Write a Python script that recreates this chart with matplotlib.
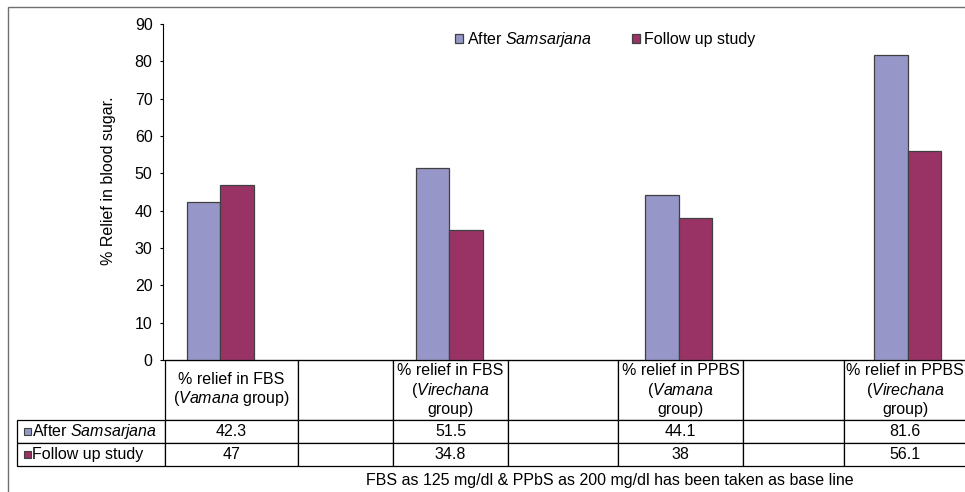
import numpy as np
import matplotlib
matplotlib.use("Agg")
import matplotlib.pyplot as plt
from matplotlib.patches import Rectangle
from matplotlib.table import Table

plt.rcParams['font.family'] = ['Liberation Sans', 'DejaVu Sans']
plt.rcParams['mathtext.fontset'] = 'custom'
plt.rcParams['mathtext.rm'] = 'Liberation Sans'
plt.rcParams['mathtext.it'] = 'Liberation Sans:italic'
fs = 11.5
plt.rcParams['font.size'] = fs

# data: 7 category slots, empty ones in between (as in the original sheet)
categories = ["% relief in FBS\n($\\it{Vamana}$ group)", "",
              "% relief in FBS\n($\\it{Virechana}$\ngroup)", "",
              "% relief in PPBS\n($\\it{Vamana}$\ngroup)", "",
              "% relief in PPBS\n($\\it{Virechana}$\ngroup)"]
after_samsarjana = [42.3, np.nan, 51.5, np.nan, 44.1, np.nan, 81.6]
follow_up = [47, np.nan, 34.8, np.nan, 38, np.nan, 56.1]
after_labels = ["42.3", "", "51.5", "", "44.1", "", "81.6"]
follow_labels = ["47", "", "34.8", "", "38", "", "56.1"]
series_names = ["After $\\it{Samsarjana}$", "Follow up study"]
yticks = [0, 10, 20, 30, 40, 50, 60, 70, 80, 90]
note = "FBS as 125 mg/dl & PPbS as 200 mg/dl has been taken as base line"

c_after = '#9696c8'
c_follow = '#993366'
edge = '#404040'

W, H = 965, 492
fig = plt.figure(figsize=(W / 100, H / 100), dpi=100)

# axes in pixel terms: x 163..965, y 24..360
ax_l, ax_r, ax_t, ax_b = 163, 965, 24, 360
ax = fig.add_axes([ax_l / W, 1 - ax_b / H, (ax_r - ax_l) / W, (ax_b - ax_t) / H])

x = np.arange(len(categories))
bw = 0.29
ax.bar(x - bw / 2, after_samsarjana, bw, color=c_after, edgecolor=edge,
       linewidth=0.9, label=series_names[0])
ax.bar(x + bw / 2, follow_up, bw, color=c_follow, edgecolor=edge,
       linewidth=0.9, label=series_names[1])

ax.set_xlim(-0.5, len(categories) - 0.5)
ax.set_ylim(0, 90)
ax.set_yticks(yticks)
ax.set_xticks([])
ax.tick_params(axis='y', direction='out', length=2.5, width=0.8, pad=5, labelsize=fs)
for s in ['top', 'right']:
    ax.spines[s].set_visible(False)
ax.spines['left'].set_linewidth(0.8)
ax.spines['bottom'].set_linewidth(0.8)

ax.set_ylabel("% Relief in blood sugar.", fontsize=fs)
ax.yaxis.set_label_coords((116 - ax_l) / (ax_r - ax_l), (ax_b - 181) / (ax_b - ax_t))

ax.legend(loc='center', bbox_to_anchor=((605 - ax_l) / (ax_r - ax_l), (ax_b - 40) / (ax_b - ax_t)),
          ncol=2, frameon=False, handlelength=0.5, handleheight=0.5,
          handletextpad=0.25, columnspacing=2.5, fontsize=fs)

# data table below the axis
col_w = [148, 133, 95, 115, 110, 125, 101, 122]
row_h = [60, 23, 23]
tab_l, tab_t = 17, 360
tw, th = sum(col_w), sum(row_h)
tbl = Table(ax, bbox=[(tab_l - ax_l) / (ax_r - ax_l), (ax_b - (tab_t + th)) / (ax_b - ax_t),
                      tw / (ax_r - ax_l), th / (ax_b - ax_t)])
tbl.auto_set_font_size(False)
rows = [[""] + categories,
        [series_names[0]] + after_labels,
        [series_names[1]] + follow_labels]
for r, row in enumerate(rows):
    for c, txt in enumerate(row):
        loc = 'left' if c == 0 else 'center'
        cell = tbl.add_cell(r, c, width=col_w[c], height=row_h[r], text=txt, loc=loc)
        cell.set_linewidth(0.9)
        cell.set_edgecolor('black')
        cell.get_text().set_fontsize(fs)
        if r == 0 and c == 0:
            cell.visible_edges = ''
tbl.set_fontsize(fs)
ax.add_table(tbl)

# little colour keys in the row labels
yy = tab_t + row_h[0]
for r, col in enumerate([c_after, c_follow]):
    cy = yy + row_h[r + 1] * (r + 0.5)
    sq = Rectangle((24 / W, 1 - (cy + 3.5) / H), 7 / W, 7 / H, transform=fig.transFigure,
                   facecolor=col, edgecolor=edge, linewidth=0.8)
    fig.add_artist(sq)

fig.text(610 / W, 1 - 481 / H, note, ha='center', va='center', fontsize=fs)

# outer frame of the chart area
fig.add_artist(Rectangle((8 / W, -0.1), 1.2, 1.1 - 7 / H, transform=fig.transFigure,
                         fill=False, edgecolor='#707070', linewidth=1.0))

fig.savefig('out.png', dpi=100)
